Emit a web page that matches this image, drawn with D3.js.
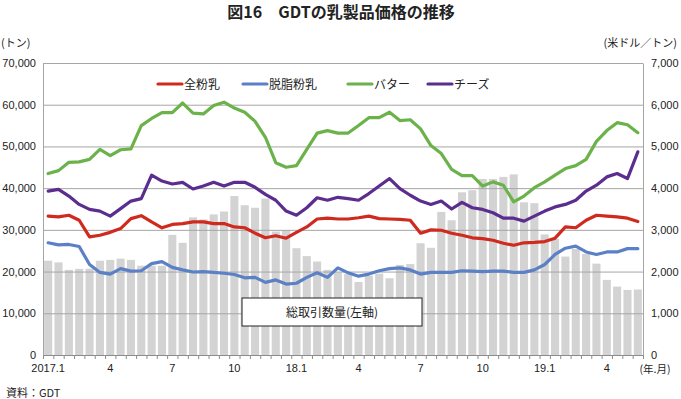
<!DOCTYPE html>
<html>
<head>
<meta charset="utf-8">
<script src="https://cdn.jsdelivr.net/npm/d3@7"></script>
<style>
  body { margin: 0; background: #fff; }
  text { font-family: 'Liberation Sans', Arial, sans-serif; fill: #222; }
  .jp { font-family: 'Noto Sans CJK JP', sans-serif; }
</style>
</head>
<body>
<div id="chart"></div>
<script>
// GDT auctions, two per month, 2017.1 to 2019.5
const xLabelIndex = [0, 6, 12, 18, 24, 30, 36, 42, 48, 54];
const xLabelText = ['2017.1', '4', '7', '10', '18.1', '4', '7', '10', '19.1', '4'];

// total traded volume (tonnes, left axis)
const volume = [
  22600, 22200, 20400, 20650, 20700, 22600, 22800, 23100, 22800, 21400,
  21400, 21400, 28800, 26900, 33000, 32500, 33700, 34400, 38100, 35900,
  35300, 37500, 29600, 29900, 25600, 23700, 22400, 20400, 19800, 19400,
  17500, 19000, 19500, 18400, 21600, 21800, 26800, 25700, 34300, 32300,
  39000, 39500, 42200, 42200, 42700, 43300, 36600, 36400, 28900, 27800,
  23600, 25400, 24200, 21900, 18000, 16400, 15600, 15700
];

// prices (US$/t, right axis)
const wmp = [
  3330, 3310, 3350, 3230, 2830, 2870, 2940, 3030, 3270, 3340,
  3190, 3050, 3130, 3150, 3190, 3190, 3150, 3150, 3070, 3050,
  2920, 2810, 2860, 2800, 2940, 3070, 3260, 3280, 3260, 3260,
  3290, 3330, 3270, 3260, 3250, 3230, 2920, 3000, 2990, 2920,
  2870, 2810, 2790, 2750, 2680, 2630, 2690, 2700, 2720, 2800,
  3070, 3050, 3230, 3350, 3330, 3310, 3280, 3200
];
const smp = [
  2690, 2640, 2650, 2600, 2170, 1980, 1940, 2070, 2010, 2020,
  2190, 2240, 2100, 2040, 1990, 2000, 1980, 1960, 1930, 1850,
  1860, 1740, 1800, 1700, 1720, 1860, 1970, 1860, 2090, 1970,
  1890, 1940, 2020, 2070, 2090, 2040, 1940, 1980, 1980, 1980,
  2020, 2010, 2000, 2010, 2010, 1980, 1980, 2040, 2170, 2410,
  2560, 2610, 2470, 2410, 2470, 2470, 2550, 2550
];
const butter = [
  4350, 4420, 4620, 4630, 4690, 4930, 4780, 4920, 4940, 5500,
  5670, 5810, 5810, 6040, 5800, 5780, 5980, 6060, 5920, 5820,
  5600, 5220, 4610, 4500, 4540, 4930, 5320, 5380, 5320, 5320,
  5500, 5690, 5690, 5820, 5620, 5640, 5420, 5020, 4830, 4450,
  4300, 4300, 4050, 4150, 4070, 3670, 3810, 4010, 4150, 4310,
  4470, 4540, 4690, 5120, 5380, 5570, 5520, 5330
];
const cheese = [
  3930, 3970, 3810, 3610, 3490, 3450, 3330, 3510, 3690, 3750,
  4310, 4170, 4100, 4140, 3980, 4050, 4140, 4050, 4140, 4140,
  4020, 3850, 3710, 3450, 3350, 3530, 3770, 3710, 3780, 3750,
  3710, 3870, 4050, 4230, 3990, 3830, 3690, 3610, 3690, 3500,
  3660, 3530, 3490, 3410, 3280, 3280, 3210, 3330, 3450, 3550,
  3610, 3710, 3930, 4070, 4270, 4350, 4230, 4870
];

const seriesNames = ['全粉乳', '脱脂粉乳', 'バター', 'チーズ'];
const seriesValues = [wmp, smp, butter, cheese];
const seriesColors = ['#d02a1e', '#5b80c6', '#6bb24b', '#5b2d8e'];

const svg = d3
  .select('#chart')
  .append('svg')
  .attr('width', 681)
  .attr('height', 399);

const margin = { top: 63, right: 38, bottom: 45, left: 43 };
const width = 681;
const height = 399;
const chartWidth = width - margin.left - margin.right;
const chartHeight = height - margin.top - margin.bottom + 1;
const x0 = margin.left;
const yBase = margin.top + chartHeight;

const idx = d3.range(volume.length);
const xScale = d3
  .scaleBand()
  .domain(idx)
  .range([x0, x0 + chartWidth])
  .paddingInner(0.22)
  .paddingOuter(0.11);
const edgeScale = d3
  .scaleLinear()
  .domain([0, volume.length])
  .range([x0, x0 + chartWidth]);
const volScale = d3.scaleLinear().domain([0, 70000]).range([yBase, margin.top]);
const priceScale = d3.scaleLinear().domain([0, 7000]).range([yBase, margin.top]);

// bars
svg
  .append('g')
  .selectAll('rect')
  .data(volume)
  .join('rect')
  .attr('x', (d, i) => xScale(i))
  .attr('width', xScale.bandwidth())
  .attr('y', (d) => volScale(d))
  .attr('height', (d) => yBase - volScale(d))
  .style('fill', '#d3d3d3');

// gridlines
const grid = svg
  .append('g')
  .attr('transform', `translate(${x0},0)`)
  .call(d3.axisLeft(volScale).tickValues(d3.range(10000, 70001, 10000)).tickSize(-chartWidth).tickFormat(''));
grid.select('.domain').remove();
grid.selectAll('line').attr('stroke', '#a6a6a6');

// left axis
const leftAxis = svg
  .append('g')
  .attr('transform', `translate(${x0},0)`)
  .call(d3.axisLeft(volScale).tickValues(d3.range(0, 70001, 10000)).tickSize(0).tickPadding(7).tickFormat(d3.format(',')));
leftAxis.select('.domain').attr('stroke', '#a6a6a6');
leftAxis.selectAll('text').style('font-size', '11px').style('font-family', "'Liberation Sans', Arial, sans-serif").attr('fill', '#222');

// right axis
const rightAxis = svg
  .append('g')
  .attr('transform', `translate(${x0 + chartWidth},0)`)
  .call(d3.axisRight(priceScale).tickValues(d3.range(0, 7001, 1000)).tickSize(0).tickPadding(8).tickFormat(d3.format(',')));
rightAxis.select('.domain').attr('stroke', '#a6a6a6');
rightAxis.selectAll('text').style('font-size', '11px').style('font-family', "'Liberation Sans', Arial, sans-serif").attr('fill', '#222');

// bottom axis with a tick at each auction boundary
const bottomAxis = svg
  .append('g')
  .attr('transform', `translate(0,${yBase})`)
  .call(d3.axisBottom(edgeScale).tickValues(d3.range(0, volume.length + 1)).tickSize(4).tickSizeOuter(0).tickFormat(''));
bottomAxis.selectAll('line, path').attr('stroke', '#8c8c8c');

svg
  .append('g')
  .selectAll('text')
  .data(xLabelIndex)
  .join('text')
  .attr('x', (d) => xScale(d) + xScale.bandwidth() / 2)
  .attr('y', yBase + 17)
  .attr('text-anchor', 'middle')
  .style('font-size', '11px')
  .text((d, i) => xLabelText[i]);

svg
  .append('text')
  .attr('class', 'jp')
  .attr('x', 655)
  .attr('y', yBase + 18)
  .attr('text-anchor', 'middle')
  .style('font-size', '10.5px')
  .text('(年.月)');

// label box for the bars
svg
  .append('rect')
  .attr('x', 242)
  .attr('y', 298)
  .attr('width', 180)
  .attr('height', 28)
  .style('fill', '#fff')
  .style('stroke', '#222')
  .style('stroke-width', 1);
svg
  .append('text')
  .attr('class', 'jp')
  .attr('x', 332)
  .attr('y', 317)
  .attr('text-anchor', 'middle')
  .style('font-size', '12px')
  .text('総取引数量(左軸)');

// price lines
const lineGen = d3
  .line()
  .x((d, i) => xScale(i) + xScale.bandwidth() / 2)
  .y((d) => priceScale(d));

svg
  .append('g')
  .selectAll('path')
  .data(seriesValues)
  .join('path')
  .attr('d', (d) => lineGen(d))
  .style('fill', 'none')
  .style('stroke', (d, i) => seriesColors[i])
  .style('stroke-width', 3.2)
  .style('stroke-linejoin', 'round')
  .style('stroke-linecap', 'round');

// legend
const legendX = [158, 243, 348, 428];
const legend = svg
  .append('g')
  .selectAll('g')
  .data(seriesNames)
  .join('g')
  .attr('transform', (d, i) => `translate(${legendX[i]},84)`);
legend
  .append('line')
  .attr('x1', 0)
  .attr('x2', 24)
  .style('stroke', (d, i) => seriesColors[i])
  .style('stroke-width', 3.2)
  .style('stroke-linecap', 'round');
legend
  .append('text')
  .attr('class', 'jp')
  .attr('x', 26)
  .attr('y', 4.5)
  .style('font-size', '12px')
  .text((d) => d);

// titles and notes
svg
  .append('text')
  .attr('class', 'jp')
  .attr('x', 341)
  .attr('y', 18)
  .attr('text-anchor', 'middle')
  .style('font-size', '16px')
  .style('font-weight', 'bold')
  .text('図16　GDTの乳製品価格の推移');
svg
  .append('text')
  .attr('class', 'jp')
  .attr('x', 1)
  .attr('y', 47)
  .style('font-size', '11px')
  .text('(トン)');
svg
  .append('text')
  .attr('class', 'jp')
  .attr('x', 677)
  .attr('y', 47)
  .attr('text-anchor', 'end')
  .style('font-size', '11px')
  .text('(米ドル／トン)');
svg
  .append('text')
  .attr('class', 'jp')
  .attr('x', 6)
  .attr('y', 397)
  .style('font-size', '11px')
  .text('資料：GDT');
</script>
</body>
</html>
